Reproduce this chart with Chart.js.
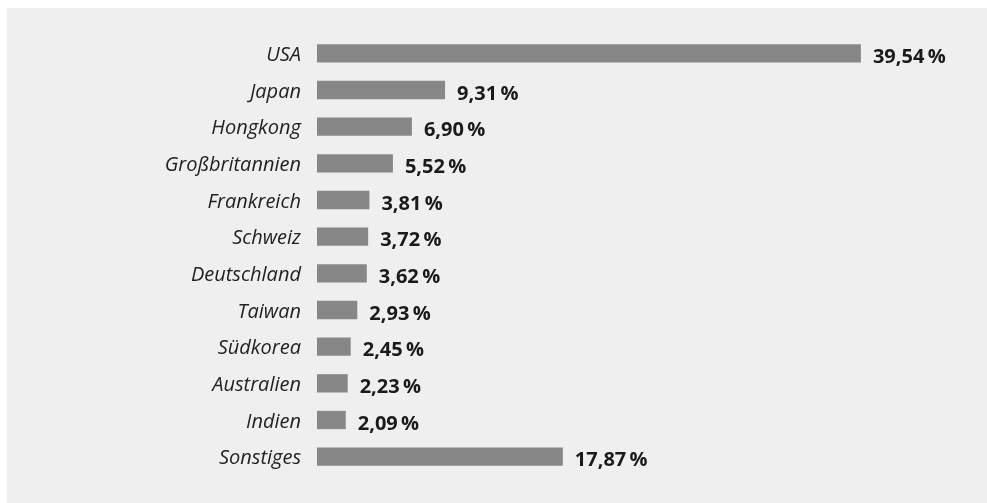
<!DOCTYPE html>
<html>
<head>
<meta charset="utf-8">
<script src="https://cdn.jsdelivr.net/npm/chart.js@4/dist/chart.umd.min.js"></script>
<style>
  html, body { margin: 0; padding: 0; background: #efefef; overflow: hidden; }
  #wrap { width: 987px; height: 503px; }
</style>
</head>
<body>
<div id="wrap"><canvas id="chart" width="987" height="503"></canvas></div>
<script>
// Länder und Anteile
const laender = ["USA", "Japan", "Hongkong", "Großbritannien", "Frankreich", "Schweiz",
  "Deutschland", "Taiwan", "Südkorea", "Australien", "Indien", "Sonstiges"];
const anteile = [39.54, 9.31, 6.90, 5.52, 3.81, 3.72, 3.62, 2.93, 2.45, 2.23, 2.09, 17.87];

const schrift = "'Open Sans', sans-serif";

// Hellgraue Fläche hinter dem Diagramm, weißer Rand oben und links
const hintergrund = {
  id: 'hintergrund',
  beforeDraw(chart) {
    const ctx = chart.ctx;
    ctx.save();
    ctx.fillStyle = '#ffffff';
    ctx.fillRect(0, 0, chart.width, chart.height);
    ctx.fillStyle = '#efefef';
    ctx.fillRect(7, 8, chart.width - 7, chart.height - 8);
    ctx.restore();
  }
};

// Prozentwerte rechts neben den Balken
const werte = {
  id: 'werte',
  afterDatasetsDraw(chart) {
    const ctx = chart.ctx;
    const meta = chart.getDatasetMeta(0);
    ctx.save();
    ctx.font = "bold 20px " + schrift;
    ctx.fillStyle = '#1a1a1a';
    ctx.textAlign = 'left';
    ctx.textBaseline = 'alphabetic';
    meta.data.forEach((bar, i) => {
      const text = anteile[i].toFixed(2).replace('.', ',') + '\u2009%';
      ctx.fillText(text, bar.x + 12, bar.y + 9.5);
    });
    ctx.restore();
  }
};

new Chart(document.getElementById('chart'), {
  type: 'bar',
  data: {
    labels: laender,
    datasets: [{
      data: anteile,
      backgroundColor: '#878787',
      borderWidth: 0,
      barPercentage: 0.5,
      categoryPercentage: 1
    }]
  },
  options: {
    indexAxis: 'y',
    responsive: false,
    animation: false,
    layout: { padding: { top: 35, bottom: 19, left: 0, right: 51 } },
    plugins: {
      legend: { display: false },
      tooltip: { enabled: false }
    },
    scales: {
      x: { display: false, min: 0, max: 45 },
      y: {
        afterFit(scale) { scale.width = 317; },
        grid: { display: false, drawTicks: false },
        border: { display: false },
        ticks: {
          padding: 16,
          labelOffset: 2,
          color: '#222222',
          font: { family: schrift, size: 20, style: 'italic' }
        }
      }
    }
  },
  plugins: [hintergrund, werte]
});
</script>
</body>
</html>
